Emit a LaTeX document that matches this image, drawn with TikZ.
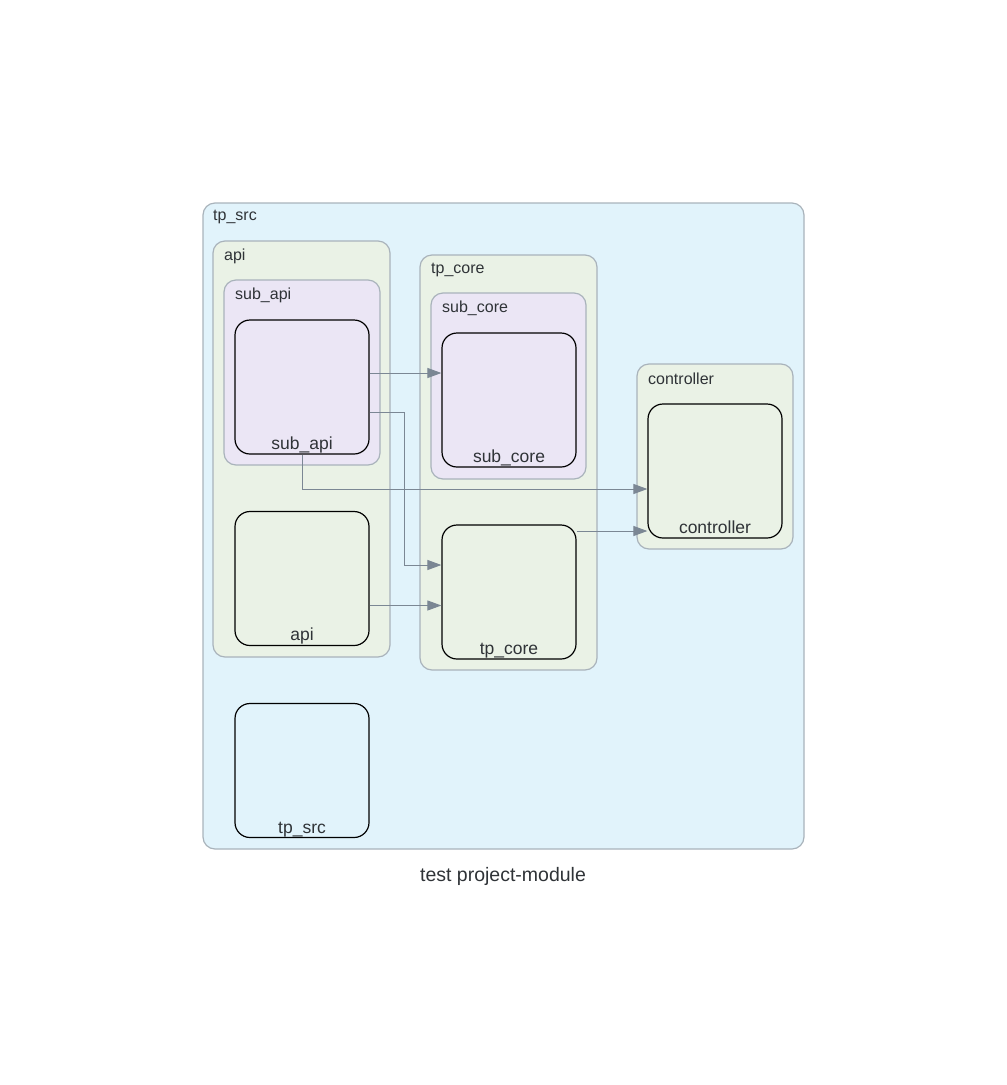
\documentclass[tikz,border=0pt]{standalone}
\usepackage{fontspec}
\setmainfont{Liberation Sans}
\usetikzlibrary{positioning,arrows.meta}

\definecolor{srcblue}{HTML}{E1F3FB}
\definecolor{pkggreen}{HTML}{EAF2E6}
\definecolor{sublav}{HTML}{EBE6F5}
\definecolor{clline}{HTML}{A9B3BB}
\definecolor{edgegrey}{HTML}{7B8794}
\definecolor{txt}{HTML}{2F3337}

\tikzset{
  cluster/.style={draw=clline,line width=1.2pt,rounded corners=12pt},
  cltitle/.style={anchor=west,inner sep=0pt,text=txt,font=\fontsize{16}{18}\selectfont},
  module/.style={draw=black,line width=1.2pt,rounded corners=15pt,minimum width=134pt,minimum height=134pt,inner sep=0pt},
  modname/.style={anchor=base,inner sep=0pt,text=txt,font=\fontsize{17.5}{20}\selectfont},
  edge/.style={draw=edgegrey,line width=1pt,-{Triangle[length=14pt,width=10pt]}}
}

\begin{document}
\begin{tikzpicture}[x=1pt,y=-1pt]
\useasboundingbox (0,0) rectangle (1007,1085);
% clusters
\draw [cluster,fill=srcblue] (203,203) rectangle (804,849);
\node [cltitle] (srctitle) at (213,217) {tp\_src};
\draw [cluster,fill=pkggreen] (213,241) rectangle (390,657);
\node [cltitle] (apititle) at (224,256) {api};
\draw [cluster,fill=sublav] (224,280) rectangle (380,465);
\node [cltitle] (subapititle) at (235,295) {sub\_api};
\draw [cluster,fill=pkggreen] (420,255) rectangle (597,670);
\node [cltitle] (coretitle) at (431,270) {tp\_core};
\draw [cluster,fill=sublav] (431,293) rectangle (586,479);
\node [cltitle] (subcoretitle) at (442,308) {sub\_core};
\draw [cluster,fill=pkggreen] (637,364) rectangle (793,549);
\node [cltitle] (ctrltitle) at (648,379) {controller};
% modules
\node [module] (subapi) at (302,387) {};
\node [modname] at (302,449) {sub\_api};
\node [module] (api) at (302,578.5) {};
\node [modname] at (302,640) {api};
\node [module] (src) at (302,770.5) {};
\node [modname] at (302,833) {tp\_src};
\node [module] (subcore) at (509,400) {};
\node [modname] at (509,462) {sub\_core};
\node [module] (core) at (509,592) {};
\node [modname] at (509,654) {tp\_core};
\node [module] (ctrl) at (715,471) {};
\node [modname] at (715,533) {controller};
% dependencies
\coordinate (a1) at ([yshift=14pt]subapi.east);
\coordinate (a2) at ([yshift=-25pt]subapi.east);
\draw [edge] (a1) -- (a1 -| subcore.west);
\draw [edge] (a2) -| (404,565) -- (core.west |- 0,565);
\draw [edge] (subapi.south) |- (ctrl.west |- 0,489);
\draw [edge] ([yshift=-27pt]api.east) -- ([yshift=-27pt]api.east -| core.west);
\draw [edge] ([yshift=61pt]core.east) -- ([yshift=61pt]core.east -| ctrl.west);
% caption
\node [text=txt,font=\fontsize{19.5}{22}\selectfont] (caption) at (503,876) {test project-module};
\end{tikzpicture}
\end{document}
